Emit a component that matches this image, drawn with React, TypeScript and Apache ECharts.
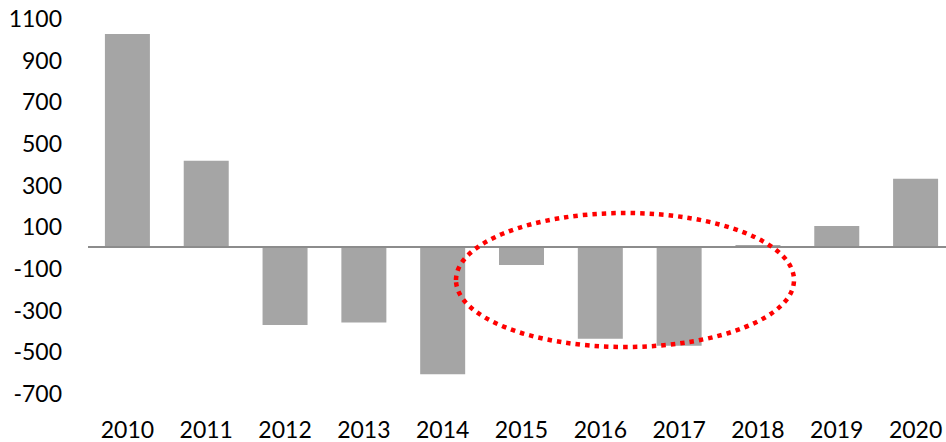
import React, { useEffect, useRef } from "react";
import * as echarts from "echarts";

const years = ["2010", "2011", "2012", "2013", "2014", "2015", "2016", "2017", "2018", "2019", "2020"];
const values = [1023, 415, -373, -361, -610, -85, -439, -473, 10, 102, 329];
const yMin = -700;
const yMax = 1100;
const yStep = 200;

export default function App() {
  const ref = useRef<HTMLDivElement>(null);
  useEffect(() => {
    if (!ref.current) return;
    const chart = echarts.init(ref.current, null, { renderer: "svg" });
    const font = "Lato, 'Open Sans', sans-serif";
    chart.setOption({
      animation: false,
      backgroundColor: "#ffffff",
      grid: { left: 88, right: 0, top: 18, bottom: 49, containLabel: false },
      xAxis: {
        type: "category",
        data: years,
        axisLine: { show: false, onZero: false },
        axisTick: { show: false },
        axisLabel: { color: "#000", fontSize: 23, fontFamily: font, margin: 24, lineHeight: 23 },
        splitLine: { show: false },
      },
      yAxis: {
        type: "value",
        min: yMin,
        max: yMax,
        interval: yStep,
        axisLine: { show: false },
        axisTick: { show: false },
        splitLine: { show: false },
        axisLabel: {
          color: "#000",
          fontSize: 23,
          fontFamily: font,
          margin: 26,
          formatter: (v: number) => String(v),
        },
      },
      series: [
        {
          type: "bar",
          data: values,
          barWidth: 45,
          itemStyle: { color: "#a5a5a5" },
          markLine: {
            silent: true,
            symbol: ["none", "none"],
            label: { show: false },
            lineStyle: { color: "#8c8c8c", width: 2, type: "solid" },
            data: [{ yAxis: 0 }],
          },
        },
      ],
      graphic: [
        {
          type: "ellipse",
          shape: { cx: 625, cy: 280, rx: 169, ry: 67 },
          style: { fill: "none", stroke: "#ff0000", lineWidth: 4.5, lineDash: [4.5, 5] },
          z: 100,
        },
      ],
    });
    return () => chart.dispose();
  }, []);
  return (
    <div style={{ position: "absolute", left: 0, top: 0, width: 946, height: 442, overflow: "hidden" }}>
      <div ref={ref} style={{ width: 955, height: 442 }} />
    </div>
  );
}
